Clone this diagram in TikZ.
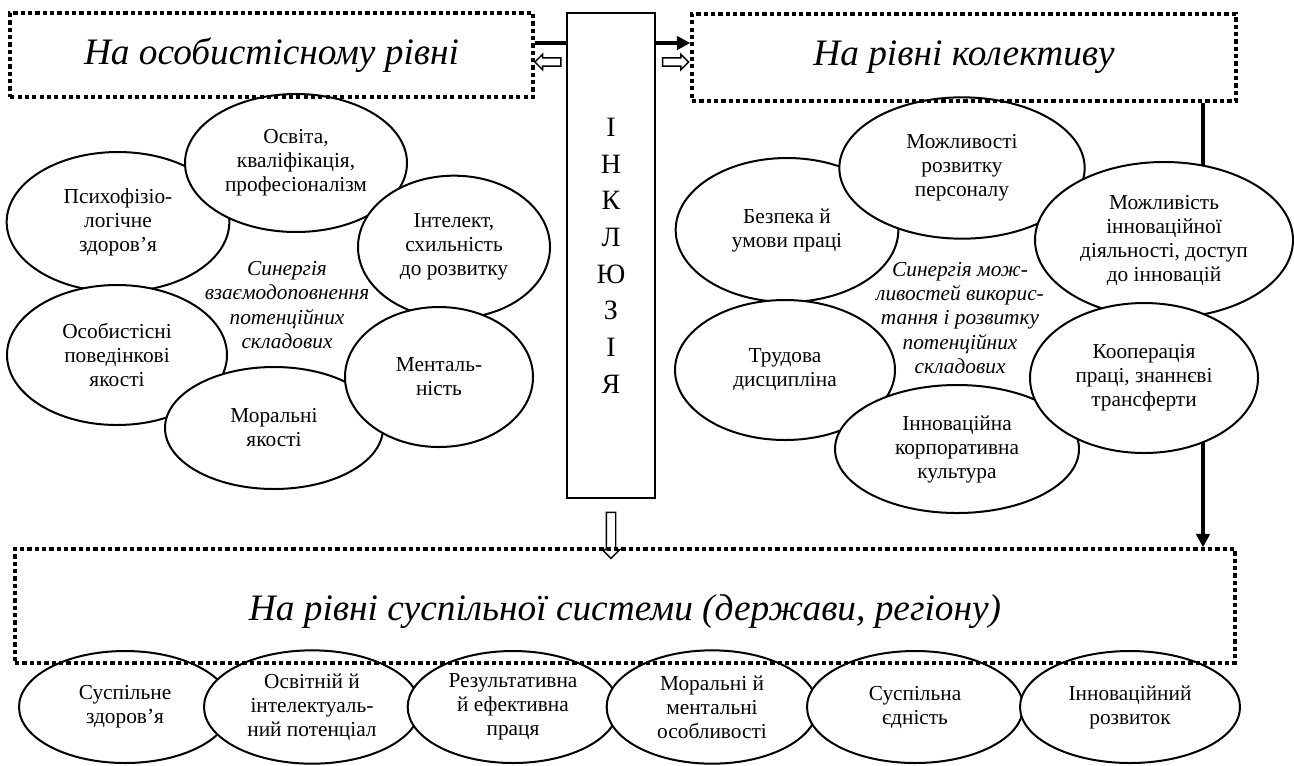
\documentclass[tikz,border=0pt]{standalone}
\usepackage{fontspec}
\setmainfont{Liberation Serif}[ItalicFont={Liberation Serif Italic}, BoldFont={Liberation Serif Bold}]
\usetikzlibrary{
  arrows.meta,
  positioning,
  shapes.geometric,
  shapes.arrows,
  backgrounds}
\tikzset{part/.style={ellipse, draw, line width=1.5pt, fill=white, align=center, inner sep=0pt, font=\fontsize{16}{18}\selectfont},
         level/.style={draw, line width=2.6pt, dash pattern=on 3.2pt off 2.3pt, font=\fontsize{28}{33}\selectfont\itshape},
         synergy/.style={align=center, font=\fontsize{16}{18.2}\selectfont\itshape},
         hollow/.style={single arrow, draw, line width=1.1pt, inner sep=2.6pt, single arrow head extend=2.6pt, minimum height=19.5pt},
         thickarrow/.style={line width=3pt, -{Triangle[length=10pt,width=10pt]}}
        }

\begin{document}
\begin{tikzpicture}[x=0.75pt, y=-0.75pt]
\useasboundingbox (0,0) rectangle (1294,765);
\node[part, minimum width=167pt, minimum height=105pt](psych) at (118,222){Психофізіо-\\логічне\\здоров’я};
\node[part, minimum width=166.5pt, minimum height=103.5pt](educ) at (296,163){Освіта,\\кваліфікація,\\професіоналізм};
\node[part, minimum width=144pt, minimum height=107pt](intel) at (454,247){Інтелект,\\схильність\\до розвитку};
\node[part, minimum width=165pt, minimum height=105pt](behav) at (117,355){Особистісні\\поведінкові\\якості};
\node[part, minimum width=163.5pt, minimum height=91.5pt](moral) at (274,428){Моральні\\якості};
\node[part, minimum width=141pt, minimum height=105pt](mental) at (439,377){Менталь-\\ність};
\node[synergy](synPersonal) at (287,305){Синергія\\взаємодоповнення\\потенційних\\складових};
\node[part, minimum width=167pt, minimum height=108pt](safety) at (787,230){Безпека й\\умови праці};
\node[part, minimum width=184pt, minimum height=106pt](growth) at (962,168){Можливості\\розвитку\\персоналу};
\node[part, minimum width=193.5pt, minimum height=117pt](access) at (1164,240){Можливість\\інноваційної\\діяльності, доступ\\до інновацій};
\node[part, minimum width=165pt, minimum height=105pt](discip) at (785,370){Трудова\\дисципліна};
\node[part, minimum width=183pt, minimum height=96pt](culture) at (957,449){Інноваційна\\корпоративна\\культура};
\node[part, minimum width=171pt, minimum height=112.5pt](coop) at (1144,378){Кооперація\\праці, знаннєві\\трансферти};
\node[synergy](synTeam) at (960,318){Синергія мож-\\ливостей викорис-\\тання і розвитку\\потенційних\\складових};
\node[part, minimum width=159pt, minimum height=84pt](health) at (125,707){Суспільне\\здоров’я};
\node[part, minimum width=162pt, minimum height=85pt](edupot) at (312,707){Освітній й\\інтелектуаль-\\ний потенціал};
\node[part, minimum width=158pt, minimum height=84pt](labour) at (513,707){Результативна\\й ефективна\\праця};
\node[part, minimum width=158pt, minimum height=85pt](morals) at (712,707){Моральні й\\ментальні\\особливості};
\node[part, minimum width=162pt, minimum height=84pt](unity) at (915,707){Суспільна\\єдність};
\node[part, minimum width=165pt, minimum height=84pt](devel) at (1130,707){Інноваційний\\розвиток};
\node[level, minimum width=392pt, minimum height=63pt](personal) at (271.5,55){На особистісному рівні};
\node[level, minimum width=408pt, minimum height=65pt](team) at (964,57.5){На рівні колективу};
\node[level, minimum width=915pt, minimum height=85.5pt, text height=28pt](society) at (625,606){На рівні суспільної системи (держави, регіону)};
\node[draw, line width=1.5pt, fill=white, minimum width=66pt, minimum height=364pt, align=center, font=\fontsize{21}{27.5}\selectfont](incl) at (611,255.5){І\\Н\\К\\Л\\Ю\\З\\І\\Я};
\node[hollow, shape border rotate=180](toPersonal) at (550,62){};
\node[hollow](toTeam) at (673.5,62){};
\node[hollow, shape border rotate=270, minimum height=34.5pt, inner sep=3pt, single arrow head extend=3pt](toSociety) at (611,533){};
\coordinate (arrowRow) at (0,43);
\coordinate (dropCol) at (1203,0);
\begin{scope}[on background layer]
\draw[thickarrow] (personal.east |- arrowRow) -- (team.west |- arrowRow);
\draw[thickarrow] (team.south -| dropCol) -- (society.north -| dropCol);
\end{scope}
\end{tikzpicture}
\end{document}
